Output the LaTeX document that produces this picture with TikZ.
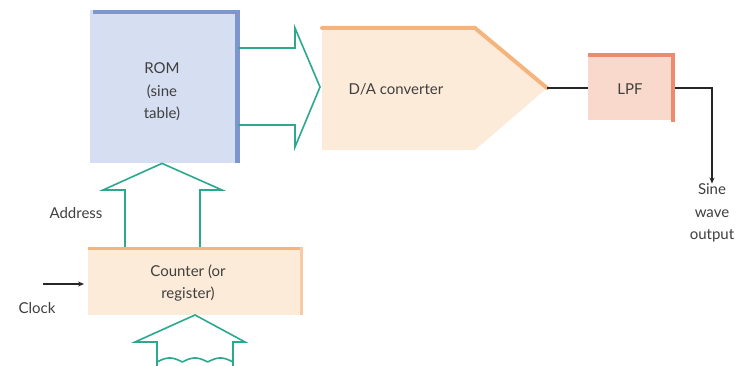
\documentclass[tikz,border=0pt]{standalone}
\usepackage{fontspec}
\setmainfont{Lato}
\usetikzlibrary{arrows.meta}
\definecolor{romfill}{HTML}{D6DEF1}
\definecolor{romedge}{HTML}{7D97CE}
\definecolor{peach}{HTML}{FDEBD9}
\definecolor{peachedge}{HTML}{F5B47C}
\definecolor{lpffill}{HTML}{F9D9CC}
\definecolor{lpfedge}{HTML}{EE8B6E}
\definecolor{busteal}{HTML}{2BA88D}
\definecolor{txt}{HTML}{3F3F3F}
\tikzset{
  blk/.style={draw=none, anchor=north west, inner sep=0pt},
  lbl/.style={align=center, text=txt, inner sep=0pt},
  bus/.style={draw=busteal, line width=1.6pt, line join=miter},
  wire/.style={draw=black!85, line width=1.2pt},
}
\begin{document}
\begin{tikzpicture}[x=1pt,y=-1pt,font=\fontsize{15}{22.5}\selectfont]
\useasboundingbox[fill=white] (0,0) rectangle (740,366);

% ROM
\node[blk, fill=romfill, minimum width=148pt, minimum height=153pt] (rom) at (90,10) {};
\draw[romedge, line width=4.5pt] ([xshift=3pt,yshift=-2pt]rom.north west) -- ([yshift=-2pt]rom.north east);
\draw[romedge, line width=5pt] ([xshift=-1pt]rom.north east) -- ([xshift=-1pt]rom.south east);
\node[lbl] (romtxt) at (162,92) {ROM\\(sine\\table)};

% D/A converter
\coordinate (dac1) at (322,28);
\coordinate (dac2) at (475,28);
\coordinate (dactip) at (547,88);
\coordinate (dac4) at (475,150);
\coordinate (dac5) at (322,150);
\fill[peach] (dac1) -- (dac2) -- (dactip) -- (dac4) -- (dac5) -- cycle;
\draw[peachedge, line width=4pt, line cap=round] (dac1) -- (dac2) -- (dactip);
\node[lbl] (dac) at (396,89) {D/A converter};

% LPF
\node[blk, fill=lpffill, minimum width=87pt, minimum height=67pt] (lpf) at (588,53) {};
\draw[lpfedge, line width=4pt] ([yshift=-2pt]lpf.north west) -- ([xshift=-2pt,yshift=-2pt]lpf.north east);
\draw[lpfedge, line width=4pt] ([xshift=-2pt]lpf.north east) -- ([xshift=-2pt,yshift=-2pt]lpf.south east);
\node[lbl] (lpftxt) at (630,89) {LPF};

% Counter
\node[blk, fill=peach, minimum width=215pt, minimum height=68pt] (cnt) at (88,247) {};
\draw[peachedge, line width=3.5pt] ([yshift=-1.5pt]cnt.north west) -- ([yshift=-1.5pt]cnt.north east);
\draw[peachedge!70, line width=3pt] ([xshift=-1.5pt]cnt.north east) -- ([xshift=-1.5pt]cnt.south east);
\node[lbl] (cnttxt) at (188,283) {Counter (or\\register)};

% ROM -> DAC bus arrow
\draw[bus] (rom.east |- 0,48) -- (295,48) -- (295,28) -- (320,87) -- (295,147) -- (295,125) -- (rom.east |- 0,125);

% Counter -> ROM address bus arrow
\draw[bus] (125,247) -- (125,190) -- (103,190) -- (rom.south -| 162,0) -- (222,190) -- (200,190) -- (200,247);
\node[lbl, anchor=center] (addr) at (76,213) {Address};

% bottom bus into counter
\draw[bus] (157,366) -- (157,342) -- (135,342) -- (195,315) -- (245,342) -- (233,342) -- (233,366);
\draw[busteal, line width=1.6pt] plot[domain=157:233, samples=80] (\x, {362 - 4*abs(sin((\x-157)/76*540))});

% Clock
\coordinate (clk) at (43,284);
\draw[wire, -{Stealth[length=6pt,width=5pt]}] (clk) -- ([xshift=-4pt]cnt.west |- clk);
\node[lbl] (clktxt) at (37,308) {Clock};

% DAC -> LPF
\draw[wire] (dactip) -- (lpf.west |- dactip);

% Output
\node[lbl] (out) at (712,213) {Sine\\wave\\output};
\draw[wire, -{Stealth[length=6pt,width=5pt]}] (lpf.east |- dactip) -| (out.north);
\end{tikzpicture}
\end{document}
